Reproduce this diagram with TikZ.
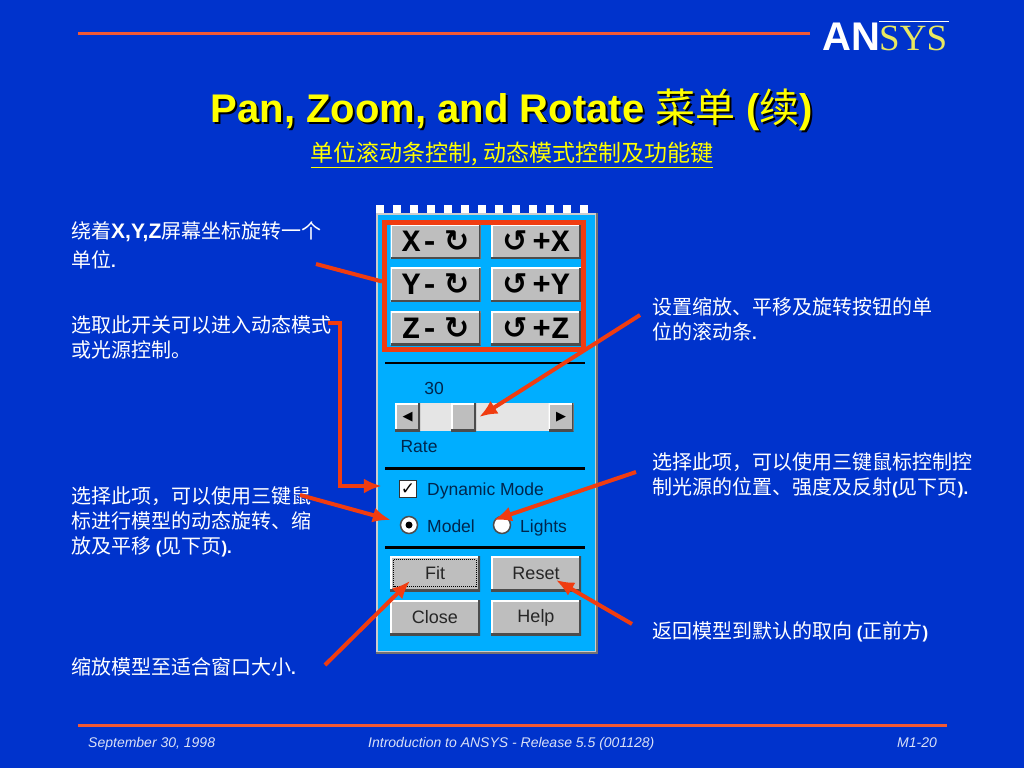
\documentclass[tikz,border=0pt]{standalone}
\usepackage{fontspec}
\setmainfont{Liberation Sans}
\newfontfamily\cjk{Noto Sans CJK SC}
\newfontfamily\symfont{DejaVu Sans}
\newfontfamily\monofont{Liberation Mono}
\newfontfamily\logofont{Liberation Serif}
\newcommand{\zh}[1]{{\cjk\mdseries\fontsize{20}{25}\selectfont #1}}
\newcommand{\rotcw}{{\symfont\fontsize{30}{30}\selectfont\,↻}}
\newcommand{\rotccw}{{\symfont\fontsize{30}{30}\selectfont↺\,}}
\usetikzlibrary{arrows.meta}
\definecolor{slidebg}{HTML}{0033CC}
\definecolor{panelblue}{HTML}{00AEFF}
\definecolor{btngrey}{HTML}{BEBEBE}
\definecolor{redline}{HTML}{F03C10}
\definecolor{darkink}{HTML}{00264D}
\definecolor{titleyellow}{HTML}{FFFF00}
\definecolor{logoyellow}{HTML}{E8E860}
\begin{document}
\begin{tikzpicture}[x=1pt, y=-1pt,
        note/.style={anchor=base west, inner sep=0pt, align=left, text=white, font=\fontsize{17}{25}\selectfont\bfseries},
        footer/.style={inner sep=0pt, text=white!85!slidebg, font=\fontsize{14}{16}\selectfont\itshape},
        btn/.style={rectangle, fill=btngrey, inner sep=0pt, minimum width=90pt, minimum height=34pt, text=black,
            path picture={
                \draw[white, line width=3pt] (path picture bounding box.south west) -- (path picture bounding box.north west) -- (path picture bounding box.north east);
                \draw[black!70, line width=4pt] (path picture bounding box.south west) -- (path picture bounding box.south east) -- (path picture bounding box.north east);
            }},
        rotbtn/.style={btn, font=\fontsize{31}{31}\selectfont\monofont\bfseries},
        textbtn/.style={btn, minimum height=35pt, text=black!85, font=\fontsize{18}{18}\selectfont},
        sliderbtn/.style={btn, minimum width=25pt, minimum height=28pt, font=\fontsize{13}{13}\selectfont\symfont},
        paneltext/.style={inner sep=0pt, text=darkink, font=\fontsize{17.5}{18}\selectfont},
        radio/.style={circle, fill=white, draw=black!70, line width=1.5pt, minimum size=17pt, inner sep=0pt},
        sep/.style={black, line width=2.5pt},
        redarrow/.style={redline, line width=4pt, -{Latex[length=18pt, width=15pt]}}
    ]
    \useasboundingbox (0,0) rectangle (1024,768);
    \fill[slidebg] (0,0) rectangle (1024,768);

    % Header and footer
    \coordinate (topL) at (78,34);
    \coordinate (topR) at (810,34);
    \draw[redline!85!white, line width=3pt] (topL) -- (topR);
    \node [anchor=base west, inner sep=0pt, text=white, font=\fontsize{40}{40}\selectfont\bfseries] (logoAN) at (822,50) {AN};
    \node [anchor=base west, inner sep=0pt, text=logoyellow, font=\fontsize{37}{37}\selectfont\logofont] (logoSYS) at (879,50) {SYS};
    \coordinate (logoTopL) at (879,22);
    \coordinate (logoTopR) at (949,22);
    \draw[white, line width=1pt] (logoTopL) -- (logoTopR);

    \node [inner sep=0pt, text=black, font=\fontsize{40}{40}\selectfont\bfseries] (titleShadow) at (514,112) {Pan, Zoom, and Rotate {\cjk\mdseries 菜单} ({\cjk\mdseries 续})};
    \node [inner sep=0pt, text=titleyellow, font=\fontsize{40}{40}\selectfont\bfseries] (title) at (512,110) {Pan, Zoom, and Rotate {\cjk\mdseries 菜单} ({\cjk\mdseries 续})};
    \node [inner sep=0pt, text=titleyellow, font=\fontsize{23}{23}\selectfont\cjk] (subtitle) at (512,155) {\underline{单位滚动条控制, 动态模式控制及功能键}};

    \coordinate (botL) at (78,725);
    \coordinate (botR) at (947,725);
    \draw[redline!85!white, line width=3pt] (botL) -- (botR);
    \node [footer, anchor=base west] (date) at (88,747) {September 30, 1998};
    \node [footer, anchor=base west] (course) at (368,747) {Introduction to ANSYS - Release 5.5 (001128)};
    \node [footer, anchor=base west] (page) at (897,747) {M1-20};

    % Dialog panel
    \foreach \i in {0,...,12}
        \fill[white] (376+17*\i,205) rectangle +(8,8);
    \node [rectangle, fill=panelblue, draw=white!80!black, line width=2.5pt, minimum width=219pt, minimum height=438pt, inner sep=0pt] (panel) at (486.5,433) {};
    \draw[black!55, line width=2pt] (panel.south west) -- (panel.south east) -- (panel.north east);

    % Rotate buttons
    \node [rotbtn] (xMinus) at (435.5,241.5) {X-\rotcw};
    \node [rotbtn] (xPlus) at (536,241.5) {\rotccw+X};
    \node [rotbtn] (yMinus) at (435.5,284.5) {Y-\rotcw};
    \node [rotbtn] (yPlus) at (536,284.5) {\rotccw+Y};
    \node [rotbtn] (zMinus) at (435.5,328) {Z-\rotcw};
    \node [rotbtn] (zPlus) at (536,328) {\rotccw+Z};
    \node [rectangle, draw=redline, line width=5pt, minimum width=199pt, minimum height=127pt, inner sep=0pt] (rotBox) at (484,285.5) {};

    \coordinate (sepAL) at (385,363);
    \coordinate (sepAR) at (585,363);
    \draw[sep] (sepAL) -- (sepAR);

    % Rate slider
    \node [paneltext] (rateVal) at (434,388) {30};
    \node [rectangle, fill=black!10, minimum width=129pt, minimum height=28pt, inner sep=0pt] (track) at (484.5,417) {};
    \node [sliderbtn] (sliderL) at (407.5,417) {◀};
    \node [sliderbtn] (thumb) at (463.5,417) {};
    \node [sliderbtn] (sliderR) at (561,417) {▶};
    \node [paneltext] (rateLab) at (419,447) {Rate};

    \coordinate (sepBL) at (385,468.5);
    \coordinate (sepBR) at (585,468.5);
    \draw[sep] (sepBL) -- (sepBR);

    % Mode switches
    \node [rectangle, fill=white, draw=black!80, line width=1.5pt, minimum size=17pt, inner sep=0pt, font=\fontsize{17}{17}\selectfont\symfont\bfseries] (chkDyn) at (408,489) {✓};
    \node [paneltext, anchor=base west] (dynLab) at (427,495) {Dynamic Mode};
    \node [radio] (radModel) at (409,525) {};
    \fill[black] (radModel) circle (3.5pt);
    \node [paneltext, anchor=base west] (modelLab) at (427,532) {Model};
    \node [radio] (radLights) at (502,525) {};
    \node [paneltext, anchor=base west] (lightsLab) at (520,532) {Lights};

    \coordinate (sepCL) at (385,547.5);
    \coordinate (sepCR) at (585,547.5);
    \draw[sep] (sepCL) -- (sepCR);

    % Bottom buttons
    \node [textbtn] (fit) at (435,573.5) {Fit};
    \draw[black, densely dotted, line width=1pt] ([shift={(4,4)}]fit.north west) rectangle ([shift={(-4,-5)}]fit.south east);
    \node [textbtn] (reset) at (536,573.5) {Reset};
    \node [textbtn] (close) at (435,617.5) {Close};
    \node [textbtn] (help) at (536,617.5) {Help};

    % Notes
    \node [note] (noteRot) at (71,267) {\zh{绕着}{\fontsize{21}{25}\selectfont X,Y,Z}\zh{屏幕坐标旋转一个}\\[4pt]\zh{单位}.};
    \node [note] (noteDyn) at (71,357) {\zh{选取此开关可以进入动态模式}\\\zh{或光源控制。}};
    \node [note] (noteModel) at (71,553) {\zh{选择此项，可以使用三键鼠}\\\zh{标进行模型的动态旋转、缩}\\\zh{放及平移} (\zh{见下页}).};
    \node [note] (noteFit) at (71,674) {\zh{缩放模型至适合窗口大小}.};
    \node [note] (noteRate) at (652,339) {\zh{设置缩放、平移及旋转按钮的单}\\\zh{位的滚动条}.};
    \node [note] (noteLights) at (652,494) {\zh{选择此项，可以使用三键鼠标控制控}\\\zh{制光源的位置、强度及反射}(\zh{见下页}).};
    \node [note] (noteReset) at (652,638) {\zh{返回模型到默认的取向} (\zh{正前方})};

    % Callout lines
    \coordinate (fromRot) at (316,264);
    \coordinate (fromDyn) at (328,323);
    \coordinate (fromModel) at (300,495);
    \coordinate (fromRate) at (640,315);
    \coordinate (fromLights) at (636,472);
    \coordinate (fromReset) at (632,624);
    \coordinate (fromFit) at (325,665);
    \draw[redline, line width=4pt] (fromRot) -- ([yshift=4pt]rotBox.west);
    \draw[redarrow] (fromDyn) -| (340,486) -- ([shift={(-17,-3)}]chkDyn.west);
    \draw[redarrow] (fromModel) -- ([shift={(-9,-5)}]radModel.west);
    \draw[redarrow] (fromRate) -- ([shift={(3,0)}]thumb.east);
    \draw[redarrow] (fromLights) -- ([shift={(1,-5)}]radLights.west);
    \draw[redarrow] (fromReset) -- ([shift={(20,6.5)}]reset.center);
    \draw[redarrow] (fromFit) -- ([shift={(-25,7.5)}]fit.center);
\end{tikzpicture}
\end{document}
